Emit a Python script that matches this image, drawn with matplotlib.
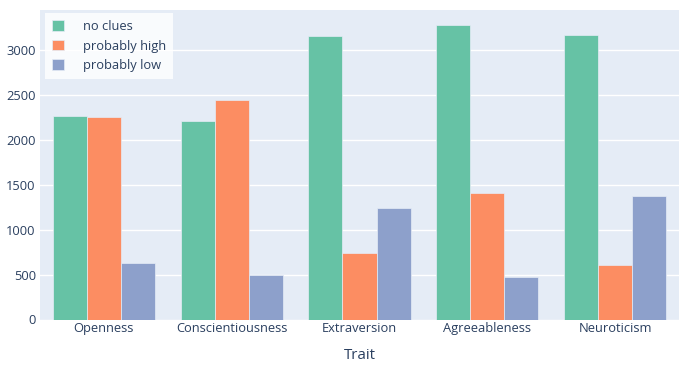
import matplotlib
matplotlib.use("Agg")
import matplotlib.pyplot as plt
from matplotlib.patches import Patch
import numpy as np

traits = ["Openness", "Conscientiousness", "Extraversion", "Agreeableness", "Neuroticism"]
series_names = ["no clues", "probably high", "probably low"]
no_clues = [2267, 2207, 3158, 3274, 3163]
probably_high = [2252, 2437, 744, 1404, 603]
probably_low = [630, 496, 1241, 470, 1378]
colors = ["#66c2a5", "#fc8d62", "#8da0cb"]
yticks = [0, 500, 1000, 1500, 2000, 2500, 3000]

plt.rcParams['font.family'] = ['Open Sans', 'DejaVu Sans']
fig = plt.figure(figsize=(6.9, 3.78), dpi=100)
W, H = 690, 378
ax = fig.add_axes([40 / W, (H - 319.5) / H, (679 - 40) / W, (319.5 - 10) / H])
ax.set_facecolor("#E5ECF6")

x = np.arange(len(traits))
bw = 0.8 / 3
for i, (vals, name) in enumerate(zip([no_clues, probably_high, probably_low], series_names)):
    ax.bar(x + (i - 1) * bw, vals, width=bw, color=colors[i], edgecolor="#E5ECF6",
           linewidth=0.5, label=name, zorder=3)

ax.set_xlim(-0.5, len(traits) - 0.5)
ax.set_ylim(0, 3444)
ax.set_yticks(yticks)
ax.set_xticks(x)
ax.set_xticklabels(traits)
ax.grid(axis="y", color="white", linewidth=1, zorder=1)
ax.set_axisbelow(True)
for s in ax.spines.values():
    s.set_visible(False)
ax.tick_params(axis="both", length=0, labelsize=9.3, colors="#2a3f5f", pad=3)
ax.tick_params(axis="x", pad=2)
ax.set_xlabel("Trait", fontsize=10.8, color="#2a3f5f", labelpad=9)

handles = [Patch(facecolor=c, edgecolor="#E5ECF6", linewidth=0.5) for c in colors]
leg = ax.legend(handles, series_names, loc="upper left", bbox_to_anchor=(5 / 639, 1 - 3 / 309.5),
                frameon=True, fancybox=False, fontsize=9.3, handlelength=0.9, handleheight=0.9,
                handletextpad=1.5, borderpad=0.55, labelspacing=0.5, borderaxespad=0)
leg.get_frame().set_facecolor("white")
leg.get_frame().set_edgecolor("white")
leg.get_frame().set_linewidth(0)
for t in leg.get_texts():
    t.set_color("#2a3f5f")

fig.savefig("out.png", dpi=100)
